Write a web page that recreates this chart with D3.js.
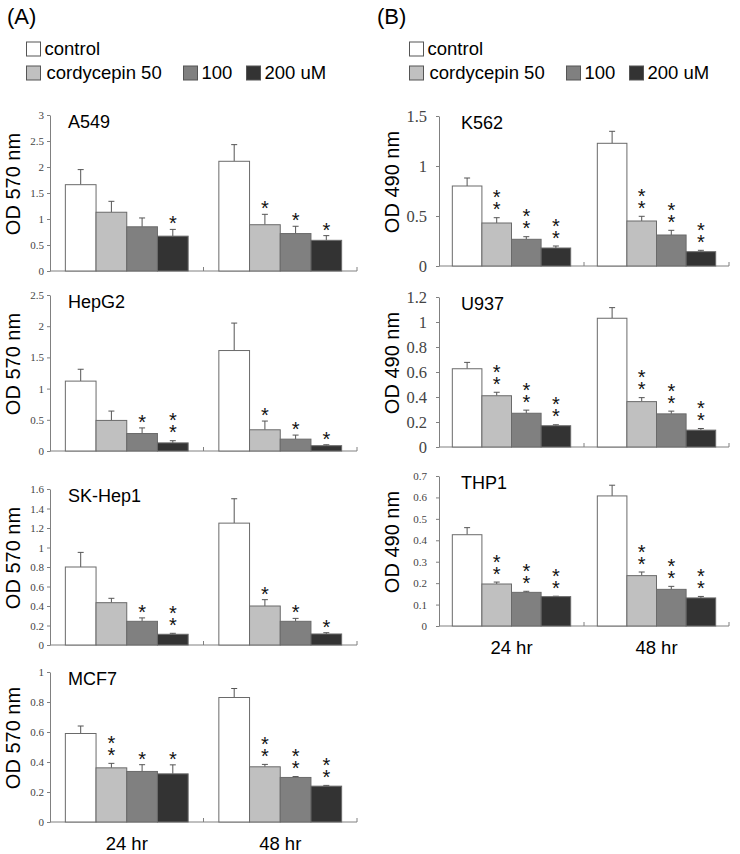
<!DOCTYPE html>
<html><head><meta charset="utf-8">
<script src="https://cdn.jsdelivr.net/npm/d3@7"></script>
<style>
html,body{margin:0;padding:0;background:#fff;}
svg{display:block;}
.vstar{writing-mode:vertical-rl;text-orientation:upright;}
</style>
</head><body>
<svg id="chart" width="740" height="854"></svg>
<script>
// ---------- data ----------
const timepoints = ["24 hr", "48 hr"];
const treatments = ["control", "cordycepin 50", "100", "200 uM"];
const legendLabels = ["control", "cordycepin 50", "100", "200 uM"];

// means [24h..., 48h...], errors, significance stars (count)
const a549Mean = [[1.66, 1.13, 0.85, 0.67], [2.11, 0.89, 0.72, 0.59]];
const a549Err  = [[0.29, 0.21, 0.17, 0.13], [0.32, 0.20, 0.14, 0.09]];
const a549Star = [[0, 0, 0, 1], [0, 1, 1, 1]];

const hepg2Mean = [[1.12, 0.49, 0.28, 0.13], [1.61, 0.34, 0.19, 0.085]];
const hepg2Err  = [[0.19, 0.15, 0.09, 0.035], [0.44, 0.14, 0.065, 0.015]];
const hepg2Star = [[0, 0, 1, 2], [0, 1, 1, 1]];

const skhep1Mean = [[0.80, 0.434, 0.243, 0.11], [1.25, 0.40, 0.243, 0.113]];
const skhep1Err  = [[0.15, 0.045, 0.035, 0.01], [0.25, 0.065, 0.03, 0.013]];
const skhep1Star = [[0, 0, 1, 2], [0, 1, 1, 1]];

const mcf7Mean = [[0.59, 0.361, 0.337, 0.321], [0.83, 0.368, 0.297, 0.239]];
const mcf7Err  = [[0.05, 0.03, 0.045, 0.06], [0.06, 0.016, 0.006, 0.005]];
const mcf7Star = [[0, 2, 1, 1], [0, 2, 2, 2]];

const k562Mean = [[0.80, 0.43, 0.267, 0.18], [1.227, 0.45, 0.31, 0.143]];
const k562Err  = [[0.08, 0.053, 0.026, 0.02], [0.12, 0.047, 0.047, 0.014]];
const k562Star = [[0, 2, 2, 2], [0, 2, 2, 2]];

const u937Mean = [[0.626, 0.41, 0.27, 0.17], [1.03, 0.363, 0.265, 0.135]];
const u937Err  = [[0.051, 0.028, 0.025, 0.008], [0.085, 0.032, 0.022, 0.013]];
const u937Star = [[0, 2, 2, 2], [0, 2, 2, 2]];

const thp1Mean = [[0.426, 0.196, 0.157, 0.137], [0.607, 0.235, 0.171, 0.131]];
const thp1Err  = [[0.033, 0.009, 0.005, 0.002], [0.05, 0.017, 0.014, 0.007]];
const thp1Star = [[0, 2, 2, 2], [0, 2, 2, 2]];

const ticksA549  = [0, 0.5, 1, 1.5, 2, 2.5, 3];
const labelsA549 = ["0", "0.5", "1", "1.5", "2", "2.5", "3"];
const ticksHepG2  = [0, 0.5, 1, 1.5, 2, 2.5];
const labelsHepG2 = ["0", "0.5", "1", "1.5", "2", "2.5"];
const ticksSK  = [0, 0.2, 0.4, 0.6, 0.8, 1, 1.2, 1.4, 1.6];
const labelsSK = ["0", "0.2", "0.4", "0.6", "0.8", "1", "1.2", "1.4", "1.6"];
const ticksMCF7  = [0, 0.2, 0.4, 0.6, 0.8, 1];
const labelsMCF7 = ["0", "0.2", "0.4", "0.6", "0.8", "1"];
const ticksK562  = [0, 0.5, 1, 1.5];
const labelsK562 = ["0", "0.5", "1", "1.5"];
const ticksU937  = [0, 0.2, 0.4, 0.6, 0.8, 1, 1.2];
const labelsU937 = ["0", "0.2", "0.4", "0.6", "0.8", "1", "1.2"];
const ticksTHP1  = [0, 0.1, 0.2, 0.3, 0.4, 0.5, 0.6, 0.7];
const labelsTHP1 = ["0", "0.1", "0.2", "0.3", "0.4", "0.5", "0.6", "0.7"];

// ---------- styles ----------
const fills = ["#ffffff", "#c0c0c0", "#808080", "#333333"];
const SANS = "'Liberation Sans', Arial, sans-serif";
const SERIF = "'Liberation Serif', 'Times New Roman', serif";
const axisColor = "#808080";

const svg = d3.select("#chart");

const panels = [
  {title: "A549", mean: a549Mean, err: a549Err, star: a549Star, ticks: ticksA549, labels: labelsA549,
   x: [50, 357], y: [271, 115], ylabel: "OD 570 nm", tickFont: 11, tickGap: 6, pad: 0.5, titleX: 68, xlab: false},
  {title: "HepG2", mean: hepg2Mean, err: hepg2Err, star: hepg2Star, ticks: ticksHepG2, labels: labelsHepG2,
   x: [50, 357], y: [451, 295], ylabel: "OD 570 nm", tickFont: 11, tickGap: 6, pad: 0.5, titleX: 68, xlab: false},
  {title: "SK-Hep1", mean: skhep1Mean, err: skhep1Err, star: skhep1Star, ticks: ticksSK, labels: labelsSK,
   x: [50, 357], y: [645, 489], ylabel: "OD 570 nm", tickFont: 11, tickGap: 6, pad: 0.5, titleX: 68, xlab: false},
  {title: "MCF7", mean: mcf7Mean, err: mcf7Err, star: mcf7Star, ticks: ticksMCF7, labels: labelsMCF7,
   x: [50, 357], y: [822, 672], ylabel: "OD 570 nm", tickFont: 11, tickGap: 6, pad: 0.5, titleX: 68, xlab: true},
  {title: "K562", mean: k562Mean, err: k562Err, star: k562Star, ticks: ticksK562, labels: labelsK562,
   x: [439, 729], y: [266, 116], ylabel: "OD 490 nm", tickFont: 16.5, tickGap: 12, pad: 0.45, titleX: 461, xlab: false},
  {title: "U937", mean: u937Mean, err: u937Err, star: u937Star, ticks: ticksU937, labels: labelsU937,
   x: [439, 729], y: [447, 297], ylabel: "OD 490 nm", tickFont: 16.5, tickGap: 12, pad: 0.45, titleX: 461, xlab: false},
  {title: "THP1", mean: thp1Mean, err: thp1Err, star: thp1Star, ticks: ticksTHP1, labels: labelsTHP1,
   x: [439, 729], y: [626, 476], ylabel: "OD 490 nm", tickFont: 11, tickGap: 12, pad: 0.45, titleX: 461, xlab: true}
];

panels.forEach(p => {
  const g = svg.append("g");
  const x = d3.scaleBand().domain(timepoints).range(p.x).paddingInner(0).paddingOuter(0);
  const xi = d3.scaleBand().domain(treatments).range([0, x.bandwidth()]).paddingInner(0).paddingOuter(p.pad);
  const y = d3.scaleLinear().domain([0, p.ticks[p.ticks.length - 1]]).range(p.y);

  // y axis
  const yAxis = d3.axisLeft(y).tickValues(p.ticks).tickSize(3).tickSizeOuter(0)
    .tickPadding(p.tickGap - 3)
    .tickFormat((d, i) => p.labels[i]);
  const ya = g.append("g").attr("transform", `translate(${p.x[0]},0)`).call(yAxis);
  ya.select(".domain").attr("stroke", axisColor);
  ya.selectAll(".tick line").attr("stroke", axisColor);
  ya.selectAll(".tick text").attr("font-family", SERIF).attr("font-size", p.tickFont).attr("fill", "#444");

  // x axis line with ticks at band boundaries
  const y0 = y(0);
  g.append("line").attr("x1", p.x[0]).attr("x2", p.x[1]).attr("y1", y0).attr("y2", y0)
    .attr("stroke", axisColor);
  const bounds = [x(timepoints[0]), x(timepoints[1]), x(timepoints[1]) + x.bandwidth()];
  g.selectAll(".xt").data(bounds.slice(1)).enter().append("line")
    .attr("x1", d => d).attr("x2", d => d).attr("y1", y0).attr("y2", y0 - 4)
    .attr("stroke", axisColor);

  // bars
  timepoints.forEach((t, ti) => {
    const gx = x(t);
    treatments.forEach((tr, k) => {
      const m = p.mean[ti][k], e = p.err[ti][k];
      const bx = gx + xi(tr), bw = xi.bandwidth();
      // error bar (upper)
      g.append("line").attr("x1", bx + bw / 2).attr("x2", bx + bw / 2)
        .attr("y1", y(m)).attr("y2", y(m + e)).attr("stroke", "#555").attr("stroke-width", 1);
      g.append("line").attr("x1", bx + bw / 2 - 3).attr("x2", bx + bw / 2 + 3)
        .attr("y1", y(m + e)).attr("y2", y(m + e)).attr("stroke", "#555").attr("stroke-width", 1);
      g.append("rect").attr("x", bx).attr("y", y(m)).attr("width", bw).attr("height", y0 - y(m))
        .attr("fill", fills[k]).attr("stroke", "#6a6a6a").attr("stroke-width", 1);
      // significance marks: single asterisk, or two asterisks stacked vertically in one text
      const n = p.star[ti][k];
      if (n === 1) {
        g.append("text").attr("x", bx + bw / 2).attr("y", y(m + e) + 1)
          .attr("text-anchor", "middle").attr("font-family", SANS).attr("font-size", 20)
          .attr("fill", "#111").text("*");
      } else if (n === 2) {
        g.append("text").attr("class", "vstar")
          .attr("x", bx + bw / 2).attr("y", y(m + e) - 31.5)
          .attr("font-family", SANS).attr("font-size", 20)
          .style("letter-spacing", "-10px")
          .attr("fill", "#111").text("**");
      }
    });
    if (p.xlab) {
      g.append("text").attr("x", gx + x.bandwidth() / 2).attr("y", y0 + 28)
        .attr("text-anchor", "middle").attr("font-family", SANS).attr("font-size", 18.5)
        .attr("fill", "#000").text(t);
    }
  });

  // title
  g.append("text").attr("x", p.titleX).attr("y", p.y[1] + 13).attr("font-family", SANS)
    .attr("font-size", 18).attr("fill", "#000").text(p.title);

  // y label
  const cy = (p.y[0] + p.y[1]) / 2 - 9;
  const lx = p.x[0] - (p.x[0] < 200 ? 30 : 40);
  g.append("text").attr("transform", `translate(${lx},${cy}) rotate(-90)`)
    .attr("text-anchor", "middle").attr("font-family", SANS).attr("font-size", 20)
    .attr("fill", "#000").text(p.ylabel);
});

// ---------- legends ----------
function legend(ox, letter, lx) {
  const g = svg.append("g");
  g.append("text").attr("x", lx).attr("y", 24).attr("font-family", SANS).attr("font-size", 22)
    .attr("fill", "#000").text(letter);
  const items = [
    {i: 0, bx: 0, by: 42, tx: 18, ty: 55},
    {i: 1, bx: 0, by: 66, tx: 20, ty: 79},
    {i: 2, bx: 157, by: 66, tx: 175, ty: 79},
    {i: 3, bx: 220, by: 66, tx: 238, ty: 79}
  ];
  items.forEach(it => {
    g.append("rect").attr("x", ox + it.bx).attr("y", it.by).attr("width", 14).attr("height", 14)
      .attr("fill", fills[it.i]).attr("stroke", "#555").attr("stroke-width", 1);
    g.append("text").attr("x", ox + it.tx).attr("y", it.ty).attr("font-family", SANS)
      .attr("font-size", 18.5).attr("fill", "#000").text(legendLabels[it.i]);
  });
}
legend(26.5, "(A)", 7);
legend(409.5, "(B)", 377);
</script>
</body></html>
